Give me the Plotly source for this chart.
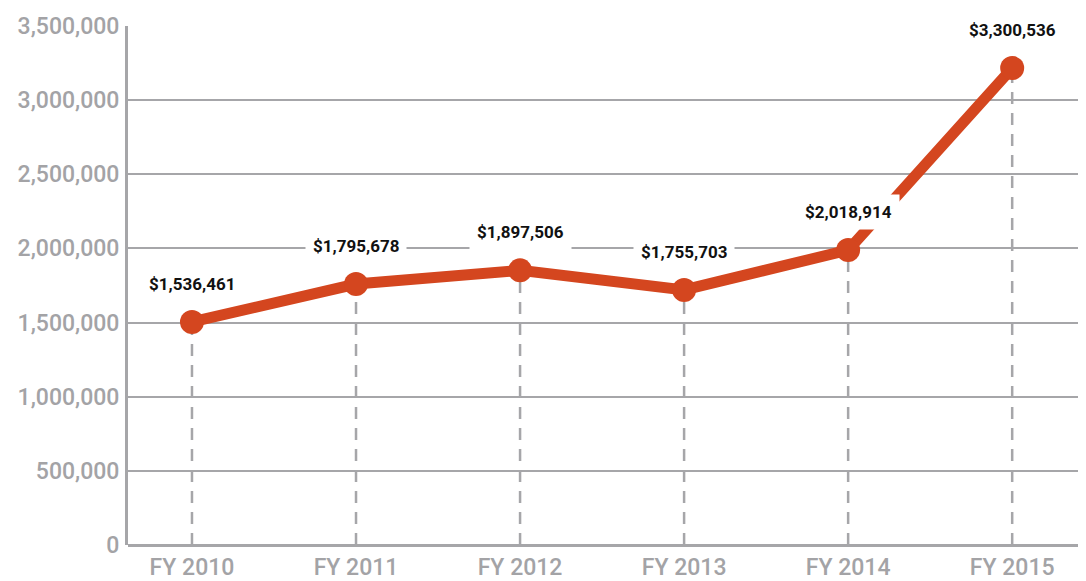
import plotly.graph_objects as go

# fiscal years and plotted amounts
years = ["FY 2010", "FY 2011", "FY 2012", "FY 2013", "FY 2014", "FY 2015"]
amounts = [1504000, 1760000, 1852000, 1720000, 1989000, 3216000]
amount_labels = ["$1,536,461", "$1,795,678", "$1,897,506", "$1,755,703",
                 "$2,018,914", "$3,300,536"]
y_ticks = [0, 500000, 1000000, 1500000, 2000000, 2500000, 3000000, 3500000]
y_tick_text = ["0", "500,000", "1,000,000", "1,500,000", "2,000,000",
               "2,500,000", "3,000,000", "3,500,000"]

GRID = '#a6a6a9'
ORANGE = '#d4461f'
FONT = "Roboto, Arial"

fig = go.Figure()

# dashed drop lines from each point to the baseline
drop_x, drop_y = [], []
for yr, v in zip(years, amounts):
    drop_x += [yr, yr, None]
    drop_y += [0, v, None]
fig.add_trace(
    go.Scatter(
        x=drop_x,
        y=drop_y,
        mode='lines',
        line=dict(color=GRID, width=2.5, dash='12px,9px'),
        hoverinfo='skip'
    )
)

fig.add_trace(
    go.Scatter(
        x=years,
        y=amounts,
        mode='lines+markers',
        line=dict(color=ORANGE, width=11),
        marker=dict(color=ORANGE, size=24),
        name='Amount'
    )
)

for yr, v, lab in zip(years, amounts, amount_labels):
    fig.add_annotation(
        x=yr, y=v, text=lab, showarrow=False, yshift=38,
        font=dict(family=FONT, size=17, color='#111111', weight='bold'),
        bgcolor='white', borderpad=7
    )

# page body adds an 8px margin, so the figure is a little smaller than the window
fig.update_layout(
    width=1078,
    height=573,
    margin=dict(l=120, r=0, t=18, b=36),
    plot_bgcolor='white',
    paper_bgcolor='white',
    showlegend=False,
    xaxis=dict(
        type='category',
        range=[-0.39, 5.45],
        showgrid=False,
        showline=False,
        zeroline=False,
        automargin=False,
        ticks='',
        ticklabelstandoff=6,
        tickfont=dict(family=FONT, size=23, color='#a3a3a6', weight=500),
    ),
    yaxis=dict(
        range=[0, 3500000],
        tickvals=y_ticks,
        ticktext=y_tick_text,
        showgrid=True,
        gridcolor=GRID,
        gridwidth=2,
        showline=True,
        linecolor=GRID,
        linewidth=3,
        zeroline=True,
        zerolinecolor=GRID,
        zerolinewidth=3,
        automargin=False,
        ticks='',
        ticklabelstandoff=1,
        tickfont=dict(family=FONT, size=23, color='#a3a3a6', weight=500),
    ),
)

fig.write_html("out.html")
